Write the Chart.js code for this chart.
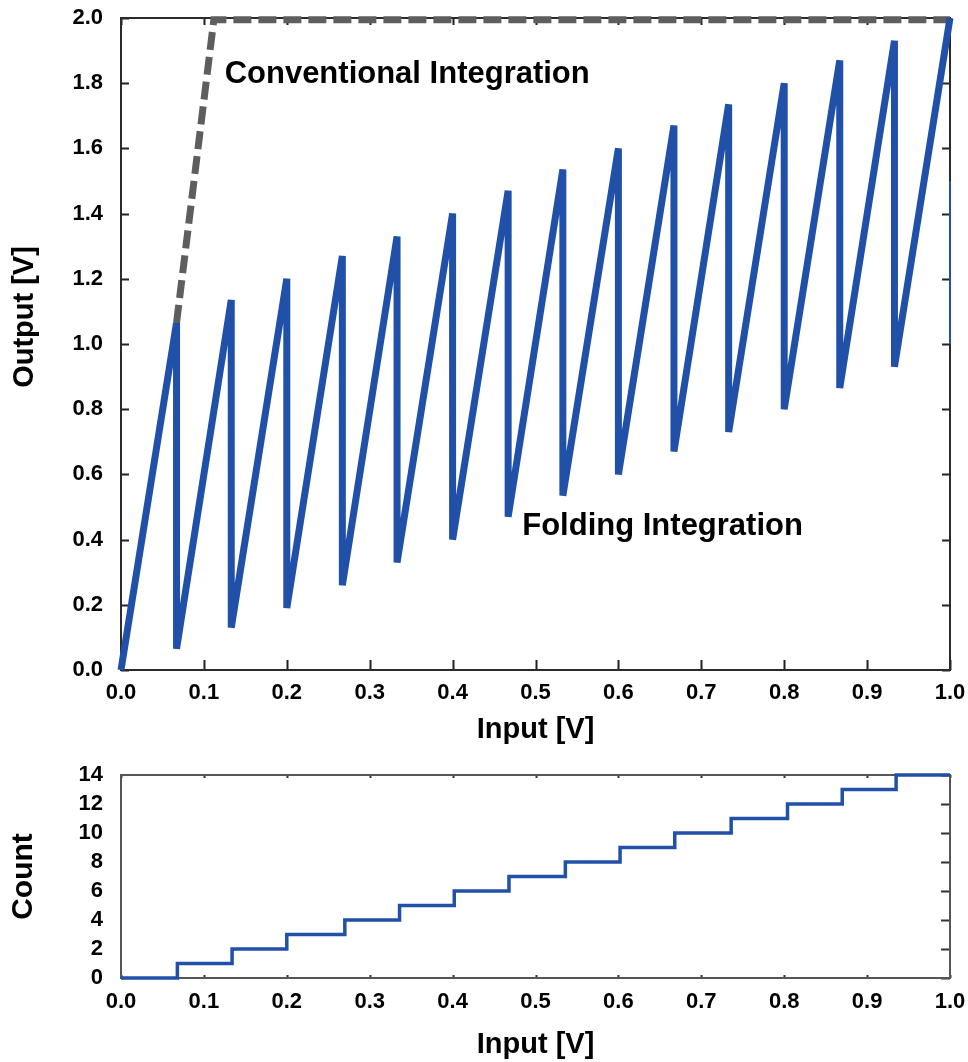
<!DOCTYPE html>
<html>
<head>
<meta charset="utf-8">
<script src="https://cdn.jsdelivr.net/npm/chart.js@4.4.1/dist/chart.umd.min.js"></script>
<style>
  html, body { margin: 0; padding: 0; background: #fff; }
  #top { position: absolute; left: 0; top: 0; width: 968px; height: 755px; }
  #bottom { position: absolute; left: 0; top: 755px; width: 968px; height: 307px; }
</style>
</head>
<body>
<div id="top"><canvas id="foldChart"></canvas></div>
<div id="bottom"><canvas id="countChart"></canvas></div>
<script>
// Folding integration (sawtooth): input [V] and output [V]
const foldInput = [0, 0.067, 0.067, 0.133, 0.133, 0.2, 0.2, 0.267, 0.267, 0.333, 0.333, 0.4, 0.4,
  0.467, 0.467, 0.533, 0.533, 0.6, 0.6, 0.667, 0.667, 0.733, 0.733, 0.8, 0.8, 0.867, 0.867, 0.933, 0.933, 1.0];
const foldOutput = [0, 1.065, 0.065, 1.135, 0.13, 1.2, 0.19, 1.27, 0.26, 1.33, 0.33, 1.4, 0.4,
  1.47, 0.47, 1.535, 0.535, 1.6, 0.6, 1.67, 0.67, 1.735, 0.73, 1.8, 0.8, 1.87, 0.865, 1.93, 0.93, 2.0];

// Conventional integration (dashed), saturates at 2.0 V
const convInput = [0.067, 0.112, 1.0];
const convOutput = [1.065, 1.995, 1.995];

// thin blue mark on the right edge
const edgeInput = [1.0, 1.0];
const edgeOutput = [1.0, 1.5];

// Counter value vs input
const countInput = [0, 0.068, 0.134, 0.2, 0.27, 0.336, 0.402, 0.468, 0.536, 0.602, 0.668, 0.736, 0.804, 0.87, 0.935, 1.0];
const countValues = [0, 1, 2, 3, 4, 5, 6, 7, 8, 9, 10, 11, 12, 13, 14, 14];

const BLUE = '#2150a8';
const FONT = '"Liberation Sans", Arial, Helvetica, sans-serif';
Chart.defaults.font.family = FONT;
Chart.defaults.color = '#000';

function toPoints(xs, ys) {
  return xs.map((x, i) => ({ x: x, y: ys[i] }));
}

// frame + inward tick marks
const frameTicks = {
  id: 'frameTicks',
  beforeDatasetsDraw(chart, args, opts) {
    const { ctx, chartArea: a, scales: { x, y } } = chart;
    ctx.save();
    ctx.lineWidth = opts.width;
    ctx.strokeStyle = opts.color;
    ctx.beginPath();
    x.ticks.forEach(t => {
      const px = Math.round(x.getPixelForValue(t.value)) + 0.5;
      ctx.moveTo(px, a.bottom); ctx.lineTo(px, a.bottom - opts.bottomLen);
      ctx.moveTo(px, a.top); ctx.lineTo(px, a.top + opts.topLen);
    });
    y.ticks.forEach(t => {
      const py = Math.round(y.getPixelForValue(t.value)) + 0.5;
      if (opts.leftLen) { ctx.moveTo(a.left, py); ctx.lineTo(a.left + opts.leftLen, py); }
      ctx.moveTo(a.right, py); ctx.lineTo(a.right - opts.rightLen, py);
    });
    ctx.stroke();
    ctx.strokeStyle = opts.frameColor;
    ctx.lineWidth = opts.frameWidth;
    ctx.strokeRect(a.left, a.top, a.right - a.left, a.bottom - a.top);
    ctx.restore();
  }
};

// free text placed by scale values
const textNotes = {
  id: 'textNotes',
  afterDatasetsDraw(chart, args, opts) {
    const { ctx, scales: { x, y } } = chart;
    ctx.save();
    ctx.fillStyle = '#000';
    (opts.items || []).forEach(it => {
      ctx.font = 'bold ' + it.size + 'px ' + FONT;
      ctx.textAlign = it.align || 'left';
      ctx.textBaseline = 'alphabetic';
      if (it.rotate) {
        ctx.save();
        ctx.translate(it.px, it.py);
        ctx.rotate(-Math.PI / 2);
        ctx.textAlign = 'center';
        ctx.textBaseline = 'middle';
        ctx.fillText(it.text, 0, 0);
        ctx.restore();
      } else {
        ctx.fillText(it.text, x.getPixelForValue(it.x), y.getPixelForValue(it.y));
      }
    });
    ctx.restore();
  }
};

const tickFont = { family: FONT, size: 22, weight: 'bold' };
const titleFont = { family: FONT, size: 29, weight: 'bold' };

// keep the plot area where the layout padding puts it
function fixX(height) {
  return scale => { scale.height = height; scale.paddingLeft = 0; scale.paddingRight = 0; };
}
function fixY(width) {
  return scale => { scale.width = width; scale.paddingTop = 0; scale.paddingBottom = 0; };
}

new Chart(document.getElementById('foldChart'), {
  type: 'line',
  data: {
    datasets: [
      {
        data: toPoints(foldInput, foldOutput),
        borderColor: BLUE,
        borderWidth: 7,
        pointRadius: 0,
        tension: 0,
        clip: 6
      },
      {
        data: toPoints(edgeInput, edgeOutput),
        borderColor: BLUE,
        borderWidth: 2,
        pointRadius: 0,
        clip: 6
      },
      {
        data: toPoints(convInput, convOutput),
        borderColor: '#5e5e5e',
        borderWidth: 7,
        borderDash: [18, 7],
        borderCapStyle: 'butt',
        pointRadius: 0,
        tension: 0,
        clip: 6
      }
    ]
  },
  options: {
    responsive: true,
    maintainAspectRatio: false,
    animation: false,
    events: [],
    layout: { padding: { top: 18, right: 18, left: 0, bottom: 0 } },
    plugins: {
      legend: { display: false },
      tooltip: { enabled: false },
      frameTicks: {
        color: '#222', width: 2, frameColor: '#2b2b2b', frameWidth: 2,
        bottomLen: 10, topLen: 7, leftLen: 8, rightLen: 8
      },
      textNotes: {
        items: [
          { text: 'Conventional Integration', x: 0.125, y: 1.80, size: 31 },
          { text: 'Folding Integration', x: 0.484, y: 0.414, size: 31 },
          { text: 'Output [V]', rotate: true, px: 25, py: 317, size: 29 }
        ]
      }
    },
    scales: {
      x: {
        type: 'linear',
        min: 0,
        max: 1,
        grid: { display: false, drawTicks: false },
        border: { display: false },
        ticks: {
          stepSize: 0.1,
          autoSkip: false,
          maxRotation: 0,
          padding: 10,
          color: '#000',
          font: tickFont,
          callback: v => v.toFixed(1)
        },
        title: { display: true, text: 'Input [V]', color: '#000', font: titleFont, padding: { top: 0, bottom: 8 } },
        afterFit: fixX(85)
      },
      y: {
        type: 'linear',
        min: 0,
        max: 2,
        grid: { display: false, drawTicks: false },
        border: { display: false },
        ticks: {
          stepSize: 0.2,
          autoSkip: false,
          padding: 18,
          color: '#000',
          font: tickFont,
          callback: v => v.toFixed(1)
        },
        afterFit: fixY(121)
      }
    }
  },
  plugins: [frameTicks, textNotes]
});

new Chart(document.getElementById('countChart'), {
  type: 'line',
  data: {
    datasets: [
      {
        data: toPoints(countInput, countValues),
        borderColor: BLUE,
        borderWidth: 3.5,
        stepped: 'before',
        pointRadius: 0,
        clip: 4
      }
    ]
  },
  options: {
    responsive: true,
    maintainAspectRatio: false,
    animation: false,
    events: [],
    layout: { padding: { top: 20, right: 18, left: 0, bottom: 0 } },
    plugins: {
      legend: { display: false },
      tooltip: { enabled: false },
      frameTicks: {
        color: '#333', width: 2, frameColor: '#555', frameWidth: 2,
        bottomLen: 3, topLen: 3, leftLen: 0, rightLen: 9
      }
    },
    scales: {
      x: {
        type: 'linear',
        min: 0,
        max: 1,
        grid: { display: false, drawTicks: false },
        border: { display: false },
        ticks: {
          stepSize: 0.1,
          autoSkip: false,
          maxRotation: 0,
          padding: 11,
          color: '#000',
          font: tickFont,
          callback: v => v.toFixed(1)
        },
        title: { display: true, text: 'Input [V]', color: '#000', font: titleFont, padding: { top: 0, bottom: 0 } },
        afterFit: fixX(84)
      },
      y: {
        type: 'linear',
        min: 0,
        max: 14,
        grid: { display: false, drawTicks: false },
        border: { display: false },
        ticks: {
          stepSize: 2,
          autoSkip: false,
          padding: 18,
          color: '#000',
          font: tickFont
        },
        title: { display: true, text: 'Count', color: '#000', font: { family: FONT, size: 30, weight: 'bold' }, padding: { top: 6, bottom: 0 } },
        afterFit: fixY(121)
      }
    }
  },
  plugins: [frameTicks]
});
</script>
</body>
</html>
